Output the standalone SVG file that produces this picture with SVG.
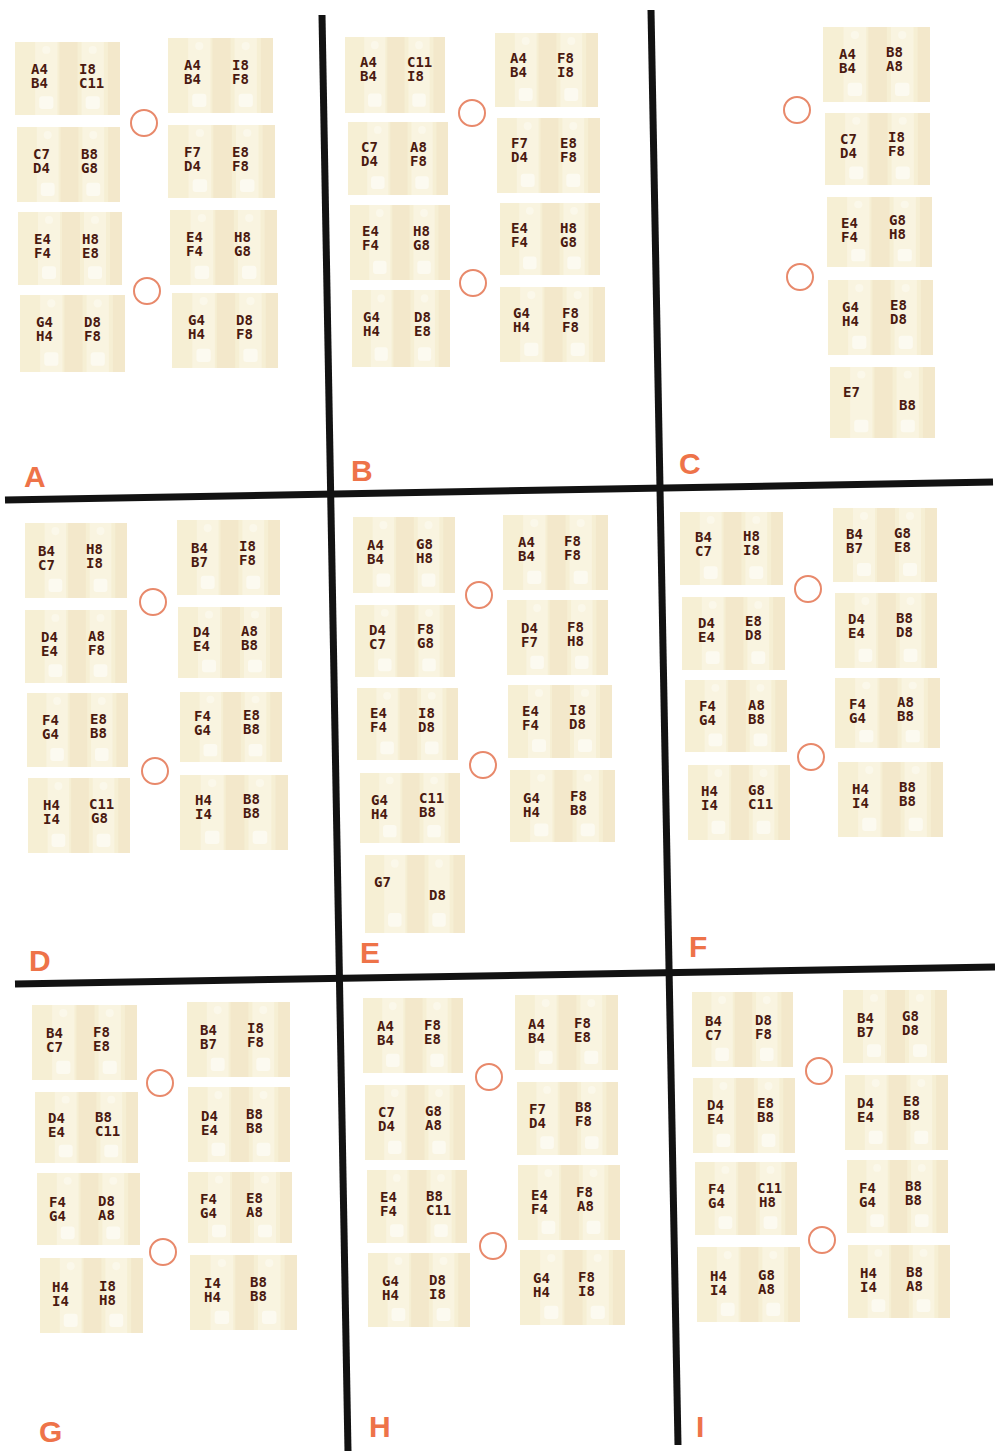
<svg xmlns="http://www.w3.org/2000/svg" xmlns:xlink="http://www.w3.org/1999/xlink" width="995" height="1451" viewBox="0 0 995 1451">
<defs>
<style>
.t{font-family:"DejaVu Sans Mono","Liberation Mono",monospace;font-weight:bold;font-size:14px;fill:#4a1a10}
.lbl{font-family:"Liberation Sans",Arial,sans-serif;font-weight:bold;font-size:30px;fill:#ee7349}
.hole{fill:none;stroke:#e8896b;stroke-width:2}
.div{stroke:#121212;stroke-width:7;fill:none;stroke-linecap:butt}
</style>
<symbol id="card" viewBox="0 0 104 74" preserveAspectRatio="none">
<rect x="0" y="0" width="104" height="74" fill="#f6efd4"/>
<rect x="20" y="0" width="22" height="74" fill="#f9f4e0"/>
<rect x="66" y="0" width="22" height="74" fill="#f9f4e0"/>
<rect x="44" y="0" width="18" height="74" fill="#f3e8cb"/>
<rect x="92" y="0" width="12" height="74" fill="#f3e8cb"/>
<circle cx="31" cy="8" r="4" fill="#fbf8ea"/>
<circle cx="77" cy="8" r="4" fill="#fbf8ea"/>
<rect x="24" y="55" width="14" height="13" rx="3" fill="#fcfaf0"/>
<rect x="70" y="55" width="14" height="13" rx="3" fill="#fcfaf0"/>
</symbol>
</defs>
<rect x="0" y="0" width="995" height="1451" fill="#ffffff"/>

<g id="dividers">
<line class="div" x1="322" y1="15" x2="348" y2="1451"/>
<line class="div" x1="651" y1="10" x2="678" y2="1445"/>
<line class="div" x1="5" y1="500" x2="993" y2="482" stroke-width="8"/>
<line class="div" x1="15" y1="984" x2="995" y2="967"/>
</g>

<g id="panel-A">
<g id="A1"><use xlink:href="#card" x="15" y="42" width="105" height="73"/><text class="t" x="31" y="74">A4</text><text class="t" x="31" y="88">B4</text><text class="t" x="79" y="74">I8</text><text class="t" x="79" y="88">C11</text></g>
<g id="A2"><use xlink:href="#card" x="168" y="38" width="105" height="75"/><text class="t" x="184" y="70">A4</text><text class="t" x="184" y="84">B4</text><text class="t" x="232" y="70">I8</text><text class="t" x="232" y="84">F8</text></g>
<g id="A3"><use xlink:href="#card" x="17" y="127" width="103" height="75"/><text class="t" x="33" y="159">C7</text><text class="t" x="33" y="173">D4</text><text class="t" x="81" y="159">B8</text><text class="t" x="81" y="173">G8</text></g>
<g id="A4"><use xlink:href="#card" x="168" y="125" width="107" height="73"/><text class="t" x="184" y="157">F7</text><text class="t" x="184" y="171">D4</text><text class="t" x="232" y="157">E8</text><text class="t" x="232" y="171">F8</text></g>
<g id="A5"><use xlink:href="#card" x="18" y="212" width="104" height="73"/><text class="t" x="34" y="244">E4</text><text class="t" x="34" y="258">F4</text><text class="t" x="82" y="244">H8</text><text class="t" x="82" y="258">E8</text></g>
<g id="A6"><use xlink:href="#card" x="170" y="210" width="107" height="75"/><text class="t" x="186" y="242">E4</text><text class="t" x="186" y="256">F4</text><text class="t" x="234" y="242">H8</text><text class="t" x="234" y="256">G8</text></g>
<g id="A7"><use xlink:href="#card" x="20" y="295" width="105" height="77"/><text class="t" x="36" y="327">G4</text><text class="t" x="36" y="341">H4</text><text class="t" x="84" y="327">D8</text><text class="t" x="84" y="341">F8</text></g>
<g id="A8"><use xlink:href="#card" x="172" y="293" width="106" height="75"/><text class="t" x="188" y="325">G4</text><text class="t" x="188" y="339">H4</text><text class="t" x="236" y="325">D8</text><text class="t" x="236" y="339">F8</text></g>
<circle class="hole" cx="144" cy="123" r="13"/>
<circle class="hole" cx="147" cy="291" r="13"/>
<text class="lbl" x="24" y="487">A</text>
</g>

<g id="panel-B">
<g id="B1"><use xlink:href="#card" x="345" y="37" width="100" height="76"/><text class="t" x="360" y="67">A4</text><text class="t" x="360" y="81">B4</text><text class="t" x="407" y="67">C11</text><text class="t" x="407" y="81">I8</text></g>
<g id="B2"><use xlink:href="#card" x="495" y="33" width="103" height="74"/><text class="t" x="510" y="63">A4</text><text class="t" x="510" y="77">B4</text><text class="t" x="557" y="63">F8</text><text class="t" x="557" y="77">I8</text></g>
<g id="B3"><use xlink:href="#card" x="348" y="122" width="100" height="73"/><text class="t" x="361" y="152">C7</text><text class="t" x="361" y="166">D4</text><text class="t" x="410" y="152">A8</text><text class="t" x="410" y="166">F8</text></g>
<g id="B4"><use xlink:href="#card" x="497" y="118" width="103" height="75"/><text class="t" x="511" y="148">F7</text><text class="t" x="511" y="162">D4</text><text class="t" x="560" y="148">E8</text><text class="t" x="560" y="162">F8</text></g>
<g id="B5"><use xlink:href="#card" x="350" y="205" width="100" height="75"/><text class="t" x="362" y="236">E4</text><text class="t" x="362" y="250">F4</text><text class="t" x="413" y="236">H8</text><text class="t" x="413" y="250">G8</text></g>
<g id="B6"><use xlink:href="#card" x="500" y="203" width="100" height="72"/><text class="t" x="511" y="233">E4</text><text class="t" x="511" y="247">F4</text><text class="t" x="560" y="233">H8</text><text class="t" x="560" y="247">G8</text></g>
<g id="B7"><use xlink:href="#card" x="352" y="290" width="98" height="77"/><text class="t" x="363" y="322">G4</text><text class="t" x="363" y="336">H4</text><text class="t" x="414" y="322">D8</text><text class="t" x="414" y="336">E8</text></g>
<g id="B8"><use xlink:href="#card" x="500" y="287" width="105" height="75"/><text class="t" x="513" y="318">G4</text><text class="t" x="513" y="332">H4</text><text class="t" x="562" y="318">F8</text><text class="t" x="562" y="332">F8</text></g>
<circle class="hole" cx="472" cy="113" r="13"/>
<circle class="hole" cx="473" cy="283" r="13"/>
<text class="lbl" x="351" y="481">B</text>
</g>

<g id="panel-C">
<g id="C1"><use xlink:href="#card" x="823" y="27" width="107" height="75"/><text class="t" x="839" y="59">A4</text><text class="t" x="839" y="73">B4</text><text class="t" x="886" y="57">B8</text><text class="t" x="886" y="71">A8</text></g>
<g id="C2"><use xlink:href="#card" x="825" y="113" width="105" height="72"/><text class="t" x="840" y="144">C7</text><text class="t" x="840" y="158">D4</text><text class="t" x="888" y="142">I8</text><text class="t" x="888" y="156">F8</text></g>
<g id="C3"><use xlink:href="#card" x="827" y="197" width="105" height="70"/><text class="t" x="841" y="228">E4</text><text class="t" x="841" y="242">F4</text><text class="t" x="889" y="225">G8</text><text class="t" x="889" y="239">H8</text></g>
<g id="C4"><use xlink:href="#card" x="828" y="280" width="105" height="75"/><text class="t" x="842" y="312">G4</text><text class="t" x="842" y="326">H4</text><text class="t" x="890" y="310">E8</text><text class="t" x="890" y="324">D8</text></g>
<g id="C5"><use xlink:href="#card" x="830" y="367" width="105" height="71"/><text class="t" x="843" y="397">E7</text><text class="t" x="899" y="410">B8</text></g>
<circle class="hole" cx="797" cy="110" r="13"/>
<circle class="hole" cx="800" cy="277" r="13"/>
<text class="lbl" x="679" y="474">C</text>
</g>

<g id="panel-D">
<g id="D1"><use xlink:href="#card" x="25" y="523" width="102" height="75"/><text class="t" x="38" y="556">B4</text><text class="t" x="38" y="570">C7</text><text class="t" x="86" y="554">H8</text><text class="t" x="86" y="568">I8</text></g>
<g id="D2"><use xlink:href="#card" x="177" y="520" width="103" height="75"/><text class="t" x="191" y="553">B4</text><text class="t" x="191" y="567">B7</text><text class="t" x="239" y="551">I8</text><text class="t" x="239" y="565">F8</text></g>
<g id="D3"><use xlink:href="#card" x="25" y="610" width="102" height="73"/><text class="t" x="41" y="642">D4</text><text class="t" x="41" y="656">E4</text><text class="t" x="88" y="641">A8</text><text class="t" x="88" y="655">F8</text></g>
<g id="D4"><use xlink:href="#card" x="178" y="607" width="104" height="71"/><text class="t" x="193" y="637">D4</text><text class="t" x="193" y="651">E4</text><text class="t" x="241" y="636">A8</text><text class="t" x="241" y="650">B8</text></g>
<g id="D5"><use xlink:href="#card" x="27" y="693" width="101" height="74"/><text class="t" x="42" y="725">F4</text><text class="t" x="42" y="739">G4</text><text class="t" x="90" y="724">E8</text><text class="t" x="90" y="738">B8</text></g>
<g id="D6"><use xlink:href="#card" x="180" y="692" width="102" height="70"/><text class="t" x="194" y="721">F4</text><text class="t" x="194" y="735">G4</text><text class="t" x="243" y="720">E8</text><text class="t" x="243" y="734">B8</text></g>
<g id="D7"><use xlink:href="#card" x="28" y="778" width="102" height="75"/><text class="t" x="43" y="810">H4</text><text class="t" x="43" y="824">I4</text><text class="t" x="89" y="809">C11</text><text class="t" x="91" y="823">G8</text></g>
<g id="D8"><use xlink:href="#card" x="180" y="775" width="108" height="75"/><text class="t" x="195" y="805">H4</text><text class="t" x="195" y="819">I4</text><text class="t" x="243" y="804">B8</text><text class="t" x="243" y="818">B8</text></g>
<circle class="hole" cx="153" cy="602" r="13"/>
<circle class="hole" cx="155" cy="771" r="13"/>
<text class="lbl" x="29" y="971">D</text>
</g>

<g id="panel-E">
<g id="E1"><use xlink:href="#card" x="353" y="517" width="102" height="76"/><text class="t" x="367" y="550">A4</text><text class="t" x="367" y="564">B4</text><text class="t" x="416" y="549">G8</text><text class="t" x="416" y="563">H8</text></g>
<g id="E2"><use xlink:href="#card" x="503" y="515" width="105" height="75"/><text class="t" x="518" y="547">A4</text><text class="t" x="518" y="561">B4</text><text class="t" x="564" y="546">F8</text><text class="t" x="564" y="560">F8</text></g>
<g id="E3"><use xlink:href="#card" x="355" y="605" width="100" height="72"/><text class="t" x="369" y="635">D4</text><text class="t" x="369" y="649">C7</text><text class="t" x="417" y="634">F8</text><text class="t" x="417" y="648">G8</text></g>
<g id="E4"><use xlink:href="#card" x="507" y="600" width="101" height="75"/><text class="t" x="521" y="633">D4</text><text class="t" x="521" y="647">F7</text><text class="t" x="567" y="632">F8</text><text class="t" x="567" y="646">H8</text></g>
<g id="E5"><use xlink:href="#card" x="357" y="688" width="101" height="72"/><text class="t" x="370" y="718">E4</text><text class="t" x="370" y="732">F4</text><text class="t" x="418" y="718">I8</text><text class="t" x="418" y="732">D8</text></g>
<g id="E6"><use xlink:href="#card" x="508" y="685" width="104" height="73"/><text class="t" x="522" y="716">E4</text><text class="t" x="522" y="730">F4</text><text class="t" x="569" y="715">I8</text><text class="t" x="569" y="729">D8</text></g>
<g id="E7"><use xlink:href="#card" x="360" y="773" width="100" height="70"/><text class="t" x="371" y="805">G4</text><text class="t" x="371" y="819">H4</text><text class="t" x="419" y="803">C11</text><text class="t" x="419" y="817">B8</text></g>
<g id="E8"><use xlink:href="#card" x="510" y="770" width="105" height="72"/><text class="t" x="523" y="803">G4</text><text class="t" x="523" y="817">H4</text><text class="t" x="570" y="801">F8</text><text class="t" x="570" y="815">B8</text></g>
<g id="E9"><use xlink:href="#card" x="365" y="855" width="100" height="78"/><text class="t" x="374" y="887">G7</text><text class="t" x="429" y="900">D8</text></g>
<circle class="hole" cx="479" cy="595" r="13"/>
<circle class="hole" cx="483" cy="765" r="13"/>
<text class="lbl" x="360" y="963">E</text>
</g>

<g id="panel-F">
<g id="F1"><use xlink:href="#card" x="680" y="512" width="103" height="73"/><text class="t" x="695" y="542">B4</text><text class="t" x="695" y="556">C7</text><text class="t" x="743" y="541">H8</text><text class="t" x="743" y="555">I8</text></g>
<g id="F2"><use xlink:href="#card" x="833" y="508" width="104" height="74"/><text class="t" x="846" y="539">B4</text><text class="t" x="846" y="553">B7</text><text class="t" x="894" y="538">G8</text><text class="t" x="894" y="552">E8</text></g>
<g id="F3"><use xlink:href="#card" x="682" y="597" width="103" height="73"/><text class="t" x="698" y="628">D4</text><text class="t" x="698" y="642">E4</text><text class="t" x="745" y="626">E8</text><text class="t" x="745" y="640">D8</text></g>
<g id="F4"><use xlink:href="#card" x="835" y="593" width="102" height="75"/><text class="t" x="848" y="624">D4</text><text class="t" x="848" y="638">E4</text><text class="t" x="896" y="623">B8</text><text class="t" x="896" y="637">D8</text></g>
<g id="F5"><use xlink:href="#card" x="685" y="680" width="102" height="72"/><text class="t" x="699" y="711">F4</text><text class="t" x="699" y="725">G4</text><text class="t" x="748" y="710">A8</text><text class="t" x="748" y="724">B8</text></g>
<g id="F6"><use xlink:href="#card" x="835" y="678" width="105" height="70"/><text class="t" x="849" y="709">F4</text><text class="t" x="849" y="723">G4</text><text class="t" x="897" y="707">A8</text><text class="t" x="897" y="721">B8</text></g>
<g id="F7"><use xlink:href="#card" x="688" y="765" width="102" height="75"/><text class="t" x="701" y="796">H4</text><text class="t" x="701" y="810">I4</text><text class="t" x="748" y="795">G8</text><text class="t" x="748" y="809">C11</text></g>
<g id="F8"><use xlink:href="#card" x="838" y="762" width="105" height="75"/><text class="t" x="852" y="794">H4</text><text class="t" x="852" y="808">I4</text><text class="t" x="899" y="792">B8</text><text class="t" x="899" y="806">B8</text></g>
<circle class="hole" cx="808" cy="589" r="13"/>
<circle class="hole" cx="811" cy="757" r="13"/>
<text class="lbl" x="689" y="957">F</text>
</g>

<g id="panel-G">
<g id="G1"><use xlink:href="#card" x="32" y="1005" width="105" height="75"/><text class="t" x="46" y="1038">B4</text><text class="t" x="46" y="1052">C7</text><text class="t" x="93" y="1037">F8</text><text class="t" x="93" y="1051">E8</text></g>
<g id="G2"><use xlink:href="#card" x="187" y="1002" width="103" height="75"/><text class="t" x="200" y="1035">B4</text><text class="t" x="200" y="1049">B7</text><text class="t" x="247" y="1033">I8</text><text class="t" x="247" y="1047">F8</text></g>
<g id="G3"><use xlink:href="#card" x="35" y="1092" width="103" height="71"/><text class="t" x="48" y="1123">D4</text><text class="t" x="48" y="1137">E4</text><text class="t" x="95" y="1122">B8</text><text class="t" x="95" y="1136">C11</text></g>
<g id="G4"><use xlink:href="#card" x="188" y="1087" width="102" height="75"/><text class="t" x="201" y="1121">D4</text><text class="t" x="201" y="1135">E4</text><text class="t" x="246" y="1119">B8</text><text class="t" x="246" y="1133">B8</text></g>
<g id="G5"><use xlink:href="#card" x="37" y="1173" width="103" height="72"/><text class="t" x="49" y="1207">F4</text><text class="t" x="49" y="1221">G4</text><text class="t" x="98" y="1206">D8</text><text class="t" x="98" y="1220">A8</text></g>
<g id="G6"><use xlink:href="#card" x="188" y="1172" width="104" height="71"/><text class="t" x="200" y="1204">F4</text><text class="t" x="200" y="1218">G4</text><text class="t" x="246" y="1203">E8</text><text class="t" x="246" y="1217">A8</text></g>
<g id="G7"><use xlink:href="#card" x="40" y="1258" width="103" height="75"/><text class="t" x="52" y="1292">H4</text><text class="t" x="52" y="1306">I4</text><text class="t" x="99" y="1291">I8</text><text class="t" x="99" y="1305">H8</text></g>
<g id="G8"><use xlink:href="#card" x="190" y="1255" width="107" height="75"/><text class="t" x="204" y="1288">I4</text><text class="t" x="204" y="1302">H4</text><text class="t" x="250" y="1287">B8</text><text class="t" x="250" y="1301">B8</text></g>
<circle class="hole" cx="160" cy="1083" r="13"/>
<circle class="hole" cx="163" cy="1252" r="13"/>
<text class="lbl" x="39" y="1442">G</text>
</g>

<g id="panel-H">
<g id="H1"><use xlink:href="#card" x="363" y="998" width="100" height="75"/><text class="t" x="377" y="1031">A4</text><text class="t" x="377" y="1045">B4</text><text class="t" x="424" y="1030">F8</text><text class="t" x="424" y="1044">E8</text></g>
<g id="H2"><use xlink:href="#card" x="515" y="995" width="103" height="75"/><text class="t" x="528" y="1029">A4</text><text class="t" x="528" y="1043">B4</text><text class="t" x="574" y="1028">F8</text><text class="t" x="574" y="1042">E8</text></g>
<g id="H3"><use xlink:href="#card" x="365" y="1085" width="100" height="75"/><text class="t" x="378" y="1117">C7</text><text class="t" x="378" y="1131">D4</text><text class="t" x="425" y="1116">G8</text><text class="t" x="425" y="1130">A8</text></g>
<g id="H4"><use xlink:href="#card" x="517" y="1082" width="101" height="73"/><text class="t" x="529" y="1114">F7</text><text class="t" x="529" y="1128">D4</text><text class="t" x="575" y="1112">B8</text><text class="t" x="575" y="1126">F8</text></g>
<g id="H5"><use xlink:href="#card" x="367" y="1170" width="100" height="73"/><text class="t" x="380" y="1202">E4</text><text class="t" x="380" y="1216">F4</text><text class="t" x="426" y="1201">B8</text><text class="t" x="426" y="1215">C11</text></g>
<g id="H6"><use xlink:href="#card" x="518" y="1165" width="102" height="75"/><text class="t" x="531" y="1200">E4</text><text class="t" x="531" y="1214">F4</text><text class="t" x="576" y="1197">F8</text><text class="t" x="577" y="1211">A8</text></g>
<g id="H7"><use xlink:href="#card" x="368" y="1253" width="102" height="74"/><text class="t" x="382" y="1286">G4</text><text class="t" x="382" y="1300">H4</text><text class="t" x="429" y="1285">D8</text><text class="t" x="429" y="1299">I8</text></g>
<g id="H8"><use xlink:href="#card" x="520" y="1250" width="105" height="75"/><text class="t" x="533" y="1283">G4</text><text class="t" x="533" y="1297">H4</text><text class="t" x="578" y="1282">F8</text><text class="t" x="578" y="1296">I8</text></g>
<circle class="hole" cx="489" cy="1077" r="13"/>
<circle class="hole" cx="493" cy="1246" r="13"/>
<text class="lbl" x="369" y="1437">H</text>
</g>

<g id="panel-I">
<g id="I1"><use xlink:href="#card" x="692" y="992" width="101" height="75"/><text class="t" x="705" y="1026">B4</text><text class="t" x="705" y="1040">C7</text><text class="t" x="755" y="1025">D8</text><text class="t" x="755" y="1039">F8</text></g>
<g id="I2"><use xlink:href="#card" x="843" y="990" width="104" height="73"/><text class="t" x="857" y="1023">B4</text><text class="t" x="857" y="1037">B7</text><text class="t" x="902" y="1021">G8</text><text class="t" x="902" y="1035">D8</text></g>
<g id="I3"><use xlink:href="#card" x="693" y="1078" width="102" height="75"/><text class="t" x="707" y="1110">D4</text><text class="t" x="707" y="1124">E4</text><text class="t" x="757" y="1108">E8</text><text class="t" x="757" y="1122">B8</text></g>
<g id="I4"><use xlink:href="#card" x="845" y="1075" width="103" height="75"/><text class="t" x="857" y="1108">D4</text><text class="t" x="857" y="1122">E4</text><text class="t" x="903" y="1106">E8</text><text class="t" x="903" y="1120">B8</text></g>
<g id="I5"><use xlink:href="#card" x="695" y="1162" width="102" height="73"/><text class="t" x="708" y="1194">F4</text><text class="t" x="708" y="1208">G4</text><text class="t" x="757" y="1193">C11</text><text class="t" x="759" y="1207">H8</text></g>
<g id="I6"><use xlink:href="#card" x="847" y="1160" width="101" height="73"/><text class="t" x="859" y="1193">F4</text><text class="t" x="859" y="1207">G4</text><text class="t" x="905" y="1191">B8</text><text class="t" x="905" y="1205">B8</text></g>
<g id="I7"><use xlink:href="#card" x="697" y="1247" width="103" height="75"/><text class="t" x="710" y="1281">H4</text><text class="t" x="710" y="1295">I4</text><text class="t" x="758" y="1280">G8</text><text class="t" x="758" y="1294">A8</text></g>
<g id="I8"><use xlink:href="#card" x="848" y="1245" width="102" height="73"/><text class="t" x="860" y="1278">H4</text><text class="t" x="860" y="1292">I4</text><text class="t" x="906" y="1277">B8</text><text class="t" x="906" y="1291">A8</text></g>
<circle class="hole" cx="819" cy="1071" r="13"/>
<circle class="hole" cx="822" cy="1240" r="13"/>
<text class="lbl" x="696" y="1437">I</text>
</g>
</svg>
